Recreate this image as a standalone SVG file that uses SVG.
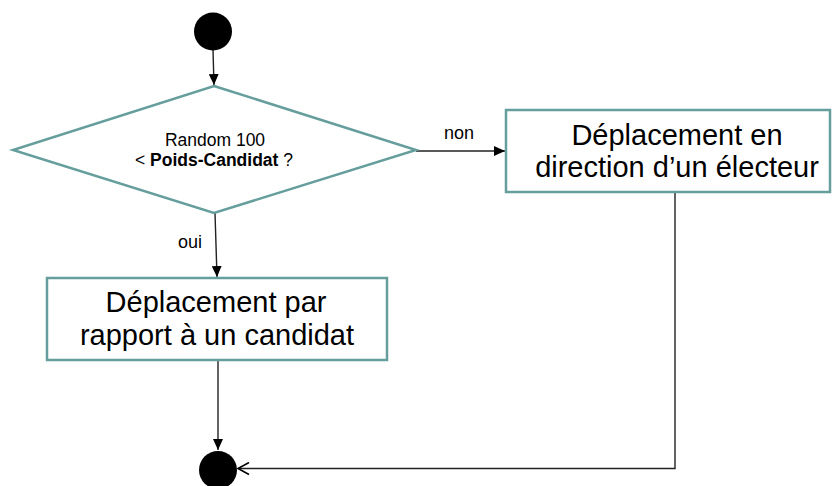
<svg xmlns="http://www.w3.org/2000/svg" width="832" height="486" viewBox="0 0 832 486">
<style>
.shape{fill:#ffffff;stroke:#659e9c;stroke-width:2.5}
.dot{fill:#000000}
.big{font-family:"Liberation Sans",Arial,sans-serif;font-size:29px;fill:#000;text-anchor:middle}
.small{font-family:"Liberation Sans",Arial,sans-serif;font-size:17.5px;fill:#000;text-anchor:middle}
.lbl{font-family:"Liberation Sans",Arial,sans-serif;font-size:18px;fill:#000;text-anchor:middle}
.conn{fill:none;stroke:#222;stroke-width:1.4}
</style>
<defs>
<marker id="fill" markerWidth="12" markerHeight="10" refX="11" refY="5" orient="auto" markerUnits="userSpaceOnUse">
<path d="M0,0 L11,5 L0,10 Z" fill="#000"/>
</marker>
<marker id="open" markerWidth="14" markerHeight="14" refX="12" refY="7" orient="auto" markerUnits="userSpaceOnUse">
<path d="M1,1 L12,7 L1,13" fill="none" stroke="#000" stroke-width="1.6"/>
</marker>
</defs>
<g id="connectors">
<line class="conn" x1="213" y1="50" x2="214" y2="85" marker-end="url(#fill)"/>
<line class="conn" x1="416" y1="151" x2="505" y2="151" marker-end="url(#fill)"/>
<line class="conn" x1="215" y1="213" x2="217" y2="277" marker-end="url(#fill)"/>
<line class="conn" x1="218" y1="360" x2="218" y2="450" marker-end="url(#fill)"/>
<polyline class="conn" points="675,192 675,468.5 238,468.5" marker-end="url(#open)"/>
<text class="lbl" x="459" y="139">non</text>
<text class="lbl" x="190" y="248">oui</text>
</g>
<g id="start">
<circle class="dot" cx="213" cy="31.5" r="19"/>
</g>
<g id="decision">
<polygon class="shape" points="214,86 416,150 214,213 13,150"/>
<text class="small" x="215" y="146">Random 100</text>
<text class="small" x="214" y="166">&lt; <tspan font-weight="bold">Poids-Candidat</tspan> ?</text>
</g>
<g id="electeur">
<rect class="shape" x="506" y="110" width="324" height="82"/>
<text class="big" x="677" y="145">Déplacement en</text>
<text class="big" x="677" y="177">direction d’un électeur</text>
</g>
<g id="candidat">
<rect class="shape" x="47" y="278" width="340" height="82"/>
<text class="big" x="216" y="312">Déplacement par</text>
<text class="big" x="217" y="345">rapport à un candidat</text>
</g>
<g id="end">
<circle class="dot" cx="218" cy="470" r="19"/>
</g>
</svg>
